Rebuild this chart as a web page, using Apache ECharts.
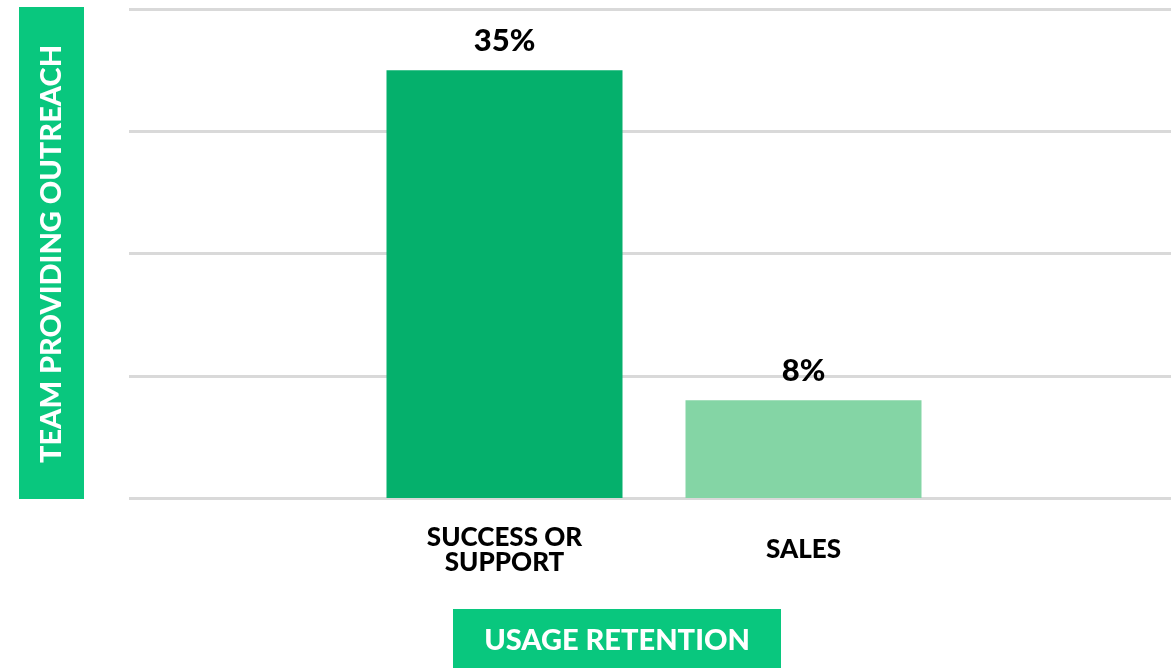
<!DOCTYPE html>
<html>
<head>
<meta charset="utf-8">
<script src="https://cdn.jsdelivr.net/npm/echarts@6/dist/echarts.min.js"></script>
<style>
  html, body { margin: 0; padding: 0; background: #ffffff; }
  #chart { width: 1171px; height: 668px; }
</style>
</head>
<body>
<div id="chart"></div>
<script>
// Share of usage retention by the team that did the outreach
const categories = ['SUCCESS OR\nSUPPORT', 'SALES'];
const values = [35, 8];
const barColors = ['#05b06c', '#84d5a5'];
const yTicks = { min: 0, max: 40, interval: 10 };
const yTitle = 'TEAM PROVIDING OUTREACH';
const xTitle = 'USAGE RETENTION';

const FONT = 'Lato, "DejaVu Sans", sans-serif';
const WEIGHT = 900;
const BOX_GREEN = '#09c77e';

const chart = echarts.init(document.getElementById('chart'), null, { renderer: 'canvas' });

chart.setOption({
  backgroundColor: '#ffffff',
  animation: false,
  grid: [
    // wide grid carrying the horizontal guide lines
    { left: 129, right: 0, top: 9, bottom: 170 },
    // narrower grid holding the two bars
    { left: 355, width: 598, top: 9, bottom: 170 }
  ],
  xAxis: [
    { type: 'category', gridIndex: 0, data: categories, show: false },
    {
      type: 'category', gridIndex: 1, data: categories,
      axisLine: { show: false }, axisTick: { show: false },
      axisLabel: {
        color: '#000000', fontFamily: FONT, fontWeight: WEIGHT, fontSize: 26,
        lineHeight: 25, margin: 52, verticalAlign: 'middle', align: 'center'
      }
    }
  ],
  yAxis: [
    {
      type: 'value', gridIndex: 0, min: yTicks.min, max: yTicks.max, interval: yTicks.interval,
      axisLine: { show: false }, axisTick: { show: false }, axisLabel: { show: false },
      splitLine: { show: true, lineStyle: { color: '#d9d9d9', width: 3 } }
    },
    {
      type: 'value', gridIndex: 1, min: yTicks.min, max: yTicks.max, interval: yTicks.interval,
      show: false, splitLine: { show: false }
    }
  ],
  series: [{
    type: 'bar',
    xAxisIndex: 1, yAxisIndex: 1,
    barWidth: 236,
    data: values.map((v, i) => ({ value: v, itemStyle: { color: barColors[i] } })),
    label: {
      show: true, position: 'top', distance: 14,
      formatter: p => p.value + '%',
      color: '#000000', fontFamily: FONT, fontWeight: WEIGHT, fontSize: 31
    }
  }],
  graphic: [
    { type: 'rect', left: 19, top: 7, shape: { width: 65, height: 492 }, style: { fill: BOX_GREEN }, z: 10 },
    {
      type: 'text', x: 51.5, y: 254, rotation: Math.PI / 2, z: 11,
      style: {
        text: yTitle, fill: '#ffffff', font: WEIGHT + ' 29px ' + FONT,
        align: 'center', verticalAlign: 'middle'
      }
    },
    { type: 'rect', left: 453, top: 609, shape: { width: 328, height: 59 }, style: { fill: BOX_GREEN }, z: 10 },
    {
      type: 'text', x: 617, y: 641, z: 11,
      style: {
        text: xTitle, fill: '#ffffff', font: WEIGHT + ' 29px ' + FONT,
        align: 'center', verticalAlign: 'middle'
      }
    }
  ]
});
</script>
</body>
</html>
